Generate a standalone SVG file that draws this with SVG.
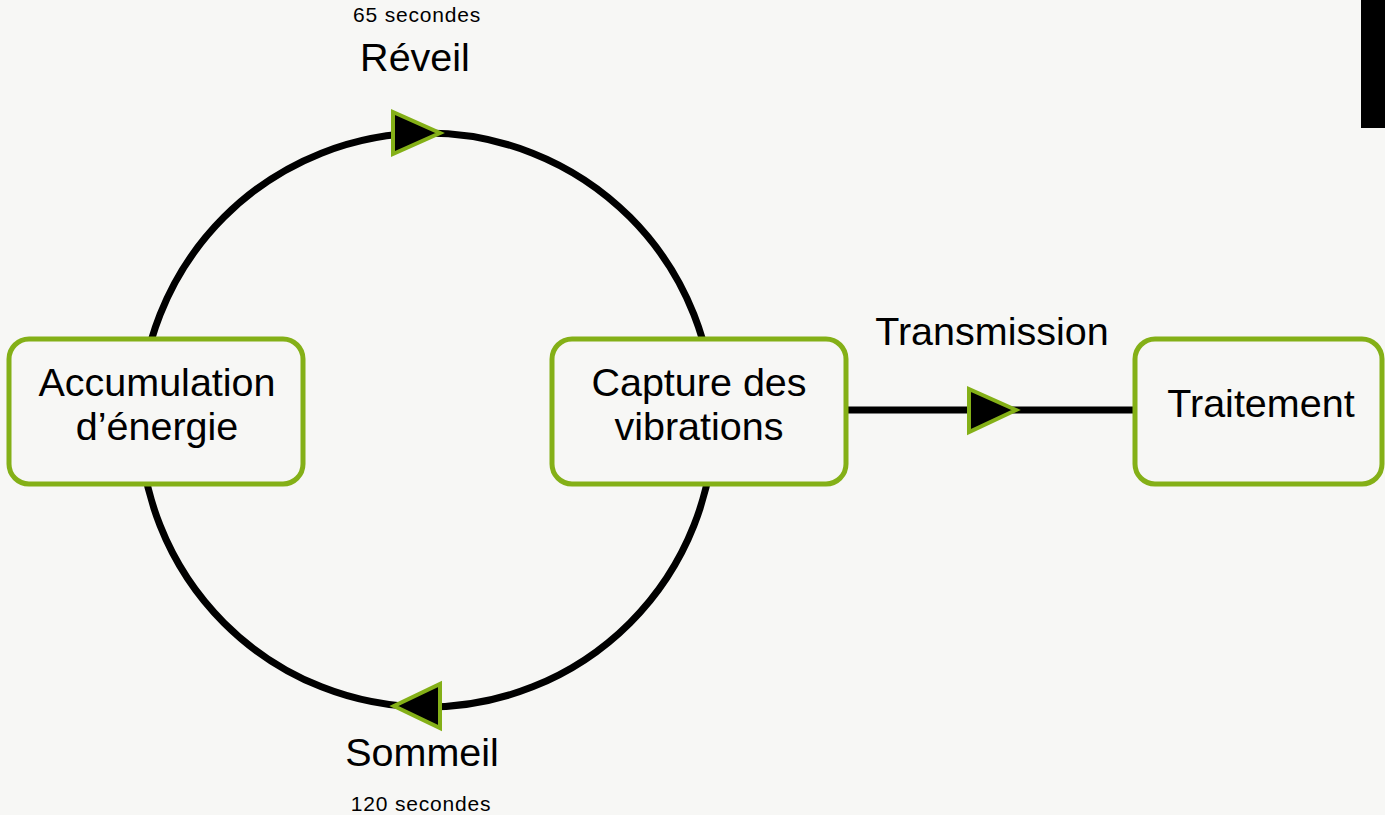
<svg xmlns="http://www.w3.org/2000/svg" width="1385" height="815" viewBox="0 0 1385 815">
<style>
.node{fill:#f7f7f5;stroke:#84b017;stroke-width:5}
.lbl{font-family:"Liberation Sans",Arial,sans-serif;font-size:39.5px;fill:#000;text-anchor:middle}
.sm{font-family:"Liberation Sans",Arial,sans-serif;font-size:21px;letter-spacing:0.8px;fill:#000;text-anchor:middle}
.edge{fill:none;stroke:#000;stroke-width:7}
.head{fill:#000;stroke:#84b017;stroke-width:4;stroke-linejoin:miter}
</style>
<rect width="1385" height="815" fill="#f7f7f5"/>
<rect x="1361" y="0" width="24" height="128" fill="#000"/>
<g id="connectors">
<circle class="edge" cx="427" cy="420" r="287"/>
<line class="edge" x1="847" y1="410" x2="1135" y2="410"/>
<polygon class="head" points="393,112 393,154 440,133"/>
<polygon class="head" points="440,684 440,728 394,706"/>
<polygon class="head" points="969,389 969,432 1016,410"/>
<text class="sm" x="417" y="22">65 secondes</text>
<text class="lbl" x="415" y="71">Réveil</text>
<text class="lbl" x="422" y="766">Sommeil</text>
<text class="sm" x="421" y="811">120 secondes</text>
<text class="lbl" x="992" y="345">Transmission</text>
</g>
<g id="node-accumulation">
<rect class="node" x="9" y="339" width="294" height="145" rx="20"/>
<text class="lbl" x="157" y="396">Accumulation</text>
<text class="lbl" x="157" y="440">d’énergie</text>
</g>
<g id="node-capture">
<rect class="node" x="552" y="339" width="294" height="145" rx="20"/>
<text class="lbl" x="699" y="396">Capture des</text>
<text class="lbl" x="699" y="440">vibrations</text>
</g>
<g id="node-traitement">
<rect class="node" x="1135" y="339" width="247" height="145" rx="20"/>
<text class="lbl" x="1261" y="417">Traitement</text>
</g>
</svg>
